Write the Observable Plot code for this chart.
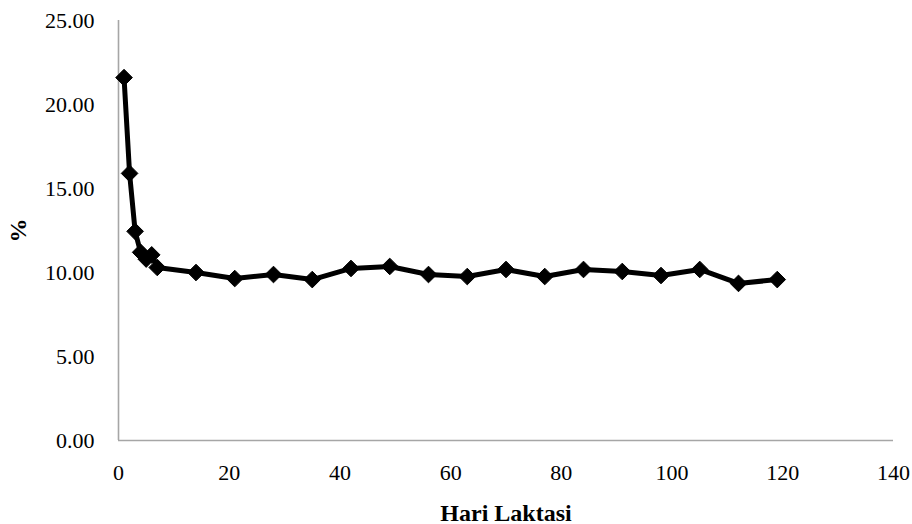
<!DOCTYPE html>
<html>
<head>
<meta charset="utf-8">
<script src="https://cdn.jsdelivr.net/npm/d3@7"></script>
<script src="https://cdn.jsdelivr.net/npm/@observablehq/plot@0.6"></script>
<style>
  body { margin: 0; background: #fff; }
  g[aria-label="x-axis label"] text, g[aria-label="y-axis label"] text { font-weight: bold; font-size: 24px; }
</style>
</head>
<body>
<div id="chart"></div>
<script>
const days = [1, 2, 3, 4, 5, 6, 7, 14, 21, 28, 35, 42, 49, 56, 63, 70, 77, 84, 91, 98, 105, 112, 119];
const values = [21.6, 15.9, 12.45, 11.2, 10.8, 11.05, 10.3, 10.0, 9.64, 9.88, 9.58, 10.24, 10.36, 9.88, 9.76, 10.18, 9.76, 10.18, 10.06, 9.82, 10.18, 9.35, 9.58];
const xTicks = [0, 20, 40, 60, 80, 100, 120, 140];
const yTicks = [0, 5, 10, 15, 20, 25];
const xLabel = "Hari Laktasi";
const yLabel = "%";

const data = days.map((d, i) => ({day: d, value: values[i]}));

const chart = Plot.plot({
  width: 912,
  height: 524,
  marginLeft: 118,
  marginRight: 19,
  marginTop: 20,
  marginBottom: 84,
  style: {fontFamily: "'Liberation Serif', 'Times New Roman', serif", fontSize: "22px", color: "#000", background: "#fff"},
  x: {domain: [0, 140]},
  y: {domain: [0, 25]},
  marks: [
    Plot.axisX({ticks: xTicks, tickSize: 0, tickPadding: 24, label: xLabel, labelAnchor: "center", labelArrow: "none", labelOffset: 80}),
    Plot.axisY({ticks: yTicks, tickSize: 0, tickPadding: 24, tickFormat: d3.format(".2f"), label: yLabel, labelAnchor: "center", labelArrow: "none", labelOffset: 110}),
    Plot.ruleX([0], {stroke: "#a6a6a6", strokeWidth: 1.6}),
    Plot.ruleY([0], {stroke: "#a6a6a6", strokeWidth: 1.6}),
    Plot.line(data, {x: "day", y: "value", stroke: "#000", strokeWidth: 5}),
    Plot.dot(data, {x: "day", y: "value", symbol: "diamond2", r: 7.5, fill: "#000", stroke: "#000", strokeWidth: 1})
  ]
});
document.getElementById("chart").appendChild(chart);
</script>
</body>
</html>
